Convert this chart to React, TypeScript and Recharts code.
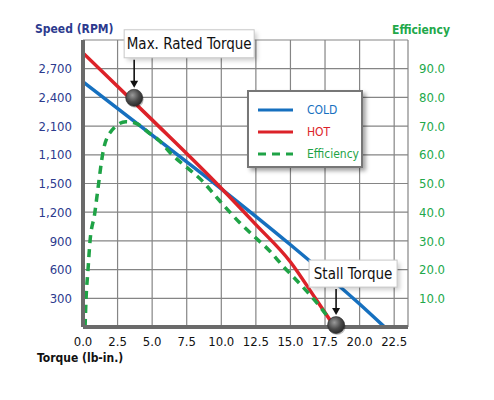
import React from 'react';
import { LineChart, Line, XAxis, YAxis, CartesianGrid, ReferenceDot, Legend } from 'recharts';

const FONT = "'DejaVu Sans Condensed', 'Liberation Sans Narrow', 'Arial Narrow', sans-serif";

const torqueTicks = [0, 2.5, 5, 7.5, 10, 12.5, 15, 17.5, 20, 22.5];
const speedTicks = [300, 600, 900, 1200, 1500, 1800, 2100, 2400, 2700];
const speedTickLabels = ['300', '600', '900', '1,200', '1,500', '1,100', '2,100', '2,400', '2,700'];
const effTicks = [10, 20, 30, 40, 50, 60, 70, 80, 90];

const coldData = [
  { t: 0, s: 2562 },
  { t: 5, s: 2005 },
  { t: 9.7, s: 1479 },
  { t: 15, s: 860 },
  { t: 20, s: 240 },
  { t: 21.8, s: 0 },
];

const hotData = [
  { t: 0, s: 2865 },
  { t: 5, s: 2165 },
  { t: 9.77, s: 1484 },
  { t: 12.5, s: 1070 },
  { t: 15, s: 680 },
  { t: 16.8, s: 300 },
  { t: 18.2, s: 0 },
];

const effData = [
  { t: 0.15, e: 0 },
  { t: 0.22, e: 9.7 },
  { t: 0.36, e: 19.8 },
  { t: 0.5, e: 29.5 },
  { t: 0.85, e: 39.6 },
  { t: 1.05, e: 47 },
  { t: 1.45, e: 61 },
  { t: 2.0, e: 68 },
  { t: 3.1, e: 71.5 },
  { t: 3.8, e: 71 },
  { t: 4.8, e: 67.5 },
  { t: 5.5, e: 65 },
  { t: 6.45, e: 60 },
  { t: 7.5, e: 55.6 },
  { t: 8.6, e: 51 },
  { t: 9.6, e: 45.5 },
  { t: 11.3, e: 36.5 },
  { t: 12.5, e: 31 },
  { t: 13.5, e: 26.5 },
  { t: 14.5, e: 21 },
  { t: 15.3, e: 17 },
  { t: 17.7, e: 3.5 },
  { t: 18.2, e: 0 },
];

const markerLabels = ['Max. Rated Torque', 'Stall Torque'];
const markerTorque = [3.7, 18.3];
const markerSpeed = [2396, 20];

const legendItems = [
  { name: 'COLD', color: '#1670bf', dashed: false },
  { name: 'HOT', color: '#dc2229', dashed: false },
  { name: 'Efficiency', color: '#1fa346', dashed: true },
];

const calloutGeom = [
  { boxDx: -10, boxW: 130, boxDy: -68, boxH: 28 },
  { boxDx: -27, boxW: 88, boxDy: -65, boxH: 27 },
];

const Callout = (props: any) => {
  const { cx, cy, idx } = props;
  if (cx == null || cy == null) return null;
  const g = calloutGeom[idx];
  const label = markerLabels[idx];
  const bx = cx + g.boxDx;
  const by = cy + g.boxDy;
  return (
    <g>
      <rect x={bx + 3} y={by + 3} width={g.boxW} height={g.boxH} fill="rgba(0,0,0,0.18)" filter="url(#blurShadow)" />
      <rect x={bx} y={by} width={g.boxW} height={g.boxH} fill="#fff" stroke="#c8c8c8" strokeWidth={1} />
      <text x={bx + g.boxW / 2} y={by + g.boxH / 2 + 5.5} textAnchor="middle" fontFamily={FONT} fontSize={15} fill="#111">{label}</text>
      <line x1={cx} y1={by + g.boxH + 2} x2={cx} y2={cy - 16} stroke="#111" strokeWidth={1.6} />
      <path d={`M${cx - 4},${cy - 17} L${cx + 4},${cy - 17} L${cx},${cy - 10} Z`} fill="#111" />
      <circle cx={cx + 1} cy={cy + 1.5} r={8.5} fill="rgba(0,0,0,0.25)" />
      <circle cx={cx} cy={cy} r={8.5} fill="url(#ballGrad)" stroke="#2a2a2a" strokeWidth={0.6} />
    </g>
  );
};

const LegendBox = () => (
  <div
    style={{
      width: 112,
      height: 74,
      border: '2px solid #777',
      background: '#fff',
      boxShadow: '3px 3px 4px rgba(0,0,0,0.35)',
      position: 'relative',
      fontFamily: FONT,
      fontSize: 12,
    }}
  >
    {legendItems.map((it, i) => (
      <div key={it.name} style={{ position: 'absolute', left: 0, top: 10 + i * 22, height: 16, width: '100%' }}>
        <svg width={40} height={16} style={{ position: 'absolute', left: 9, top: 0 }}>
          <line x1={0} y1={8} x2={35} y2={8} stroke={it.color} strokeWidth={3.2} strokeDasharray={it.dashed ? '8 6' : undefined} />
        </svg>
        <span style={{ position: 'absolute', left: 58, top: 0, lineHeight: '16px', color: it.color }}>{it.name}</span>
      </div>
    ))}
  </div>
);

export default function App() {
  return (
    <div style={{ position: 'absolute', left: 0, top: 0, width: 494, height: 400, background: '#fff' }}>
      <LineChart width={494} height={400} margin={{ top: 40, right: 0, left: 0, bottom: 43 }}>
        <defs>
          <radialGradient id="ballGrad" cx="40%" cy="35%" r="65%">
            <stop offset="0%" stopColor="#9a9a9a" />
            <stop offset="60%" stopColor="#4a4a4a" />
            <stop offset="100%" stopColor="#2a2a2a" />
          </radialGradient>
          <filter id="blurShadow" x="-20%" y="-20%" width="140%" height="140%">
            <feGaussianBlur stdDeviation="2" />
          </filter>
        </defs>
        <CartesianGrid stroke="#858585" strokeWidth={1.2} yAxisId="left" />
        <XAxis
          type="number"
          dataKey="t"
          domain={[0, 23.5]}
          ticks={torqueTicks}
          allowDataOverflow
          height={30}
          tickSize={0}
          tickMargin={10}
          tickFormatter={(v: number) => v.toFixed(1)}
          tick={{ fill: '#111', fontSize: 13, fontFamily: FONT }}
          axisLine={{ stroke: '#6a6a6a', strokeWidth: 4 }}
          tickLine={false}
        />
        <YAxis
          yAxisId="left"
          type="number"
          domain={[0, 3000]}
          ticks={speedTicks}
          width={83}
          tickSize={0}
          tickMargin={11}
          tickFormatter={(v: number) => speedTickLabels[speedTicks.indexOf(v)]}
          tick={{ fill: '#2c3a8e', fontSize: 13, fontFamily: FONT }}
          axisLine={{ stroke: '#6a6a6a', strokeWidth: 4 }}
          tickLine={false}
        />
        <YAxis
          yAxisId="right"
          orientation="right"
          type="number"
          domain={[0, 100]}
          ticks={effTicks}
          width={86}
          tickSize={0}
          tickMargin={11}
          tickFormatter={(v: number) => v.toFixed(1)}
          tick={{ fill: '#22a84a', fontSize: 13, fontFamily: FONT, textAnchor: 'start' }}
          axisLine={false}
          tickLine={false}
        />
        <Legend
          layout="vertical"
          align="center"
          verticalAlign="middle"
          wrapperStyle={{ left: 247, top: 90, width: 116 }}
          content={() => <LegendBox />}
        />
        <Line yAxisId="left" data={coldData} dataKey="s" type="monotone" stroke="#1670bf" strokeWidth={3.5} dot={false} isAnimationActive={false} />
        <Line yAxisId="left" data={hotData} dataKey="s" type="monotone" stroke="#dc2229" strokeWidth={3.5} dot={false} isAnimationActive={false} />
        <Line yAxisId="right" data={effData} dataKey="e" type="monotone" stroke="#1fa346" strokeWidth={3.5} strokeDasharray="8 6" dot={false} isAnimationActive={false} />
        {markerLabels.map((m, i) => (
          <ReferenceDot
            key={m}
            yAxisId="left"
            x={markerTorque[i]}
            y={markerSpeed[i]}
            ifOverflow="visible"
            shape={(p: any) => <Callout {...p} idx={i} />}
          />
        ))}
      </LineChart>
      <svg width={494} height={400} style={{ position: 'absolute', left: 0, top: 0, pointerEvents: 'none' }}>
        <text x={35} y={33} fontFamily={FONT} fontWeight="bold" fontSize={12} fill="#2c3a8e">Speed (RPM)</text>
        <text x={392} y={34} fontFamily={FONT} fontWeight="bold" fontSize={12} fill="#22a84a">Efficiency</text>
        <text x={37} y={362} fontFamily={FONT} fontWeight="bold" fontSize={12} fill="#111">Torque (lb-in.)</text>
      </svg>
    </div>
  );
}
